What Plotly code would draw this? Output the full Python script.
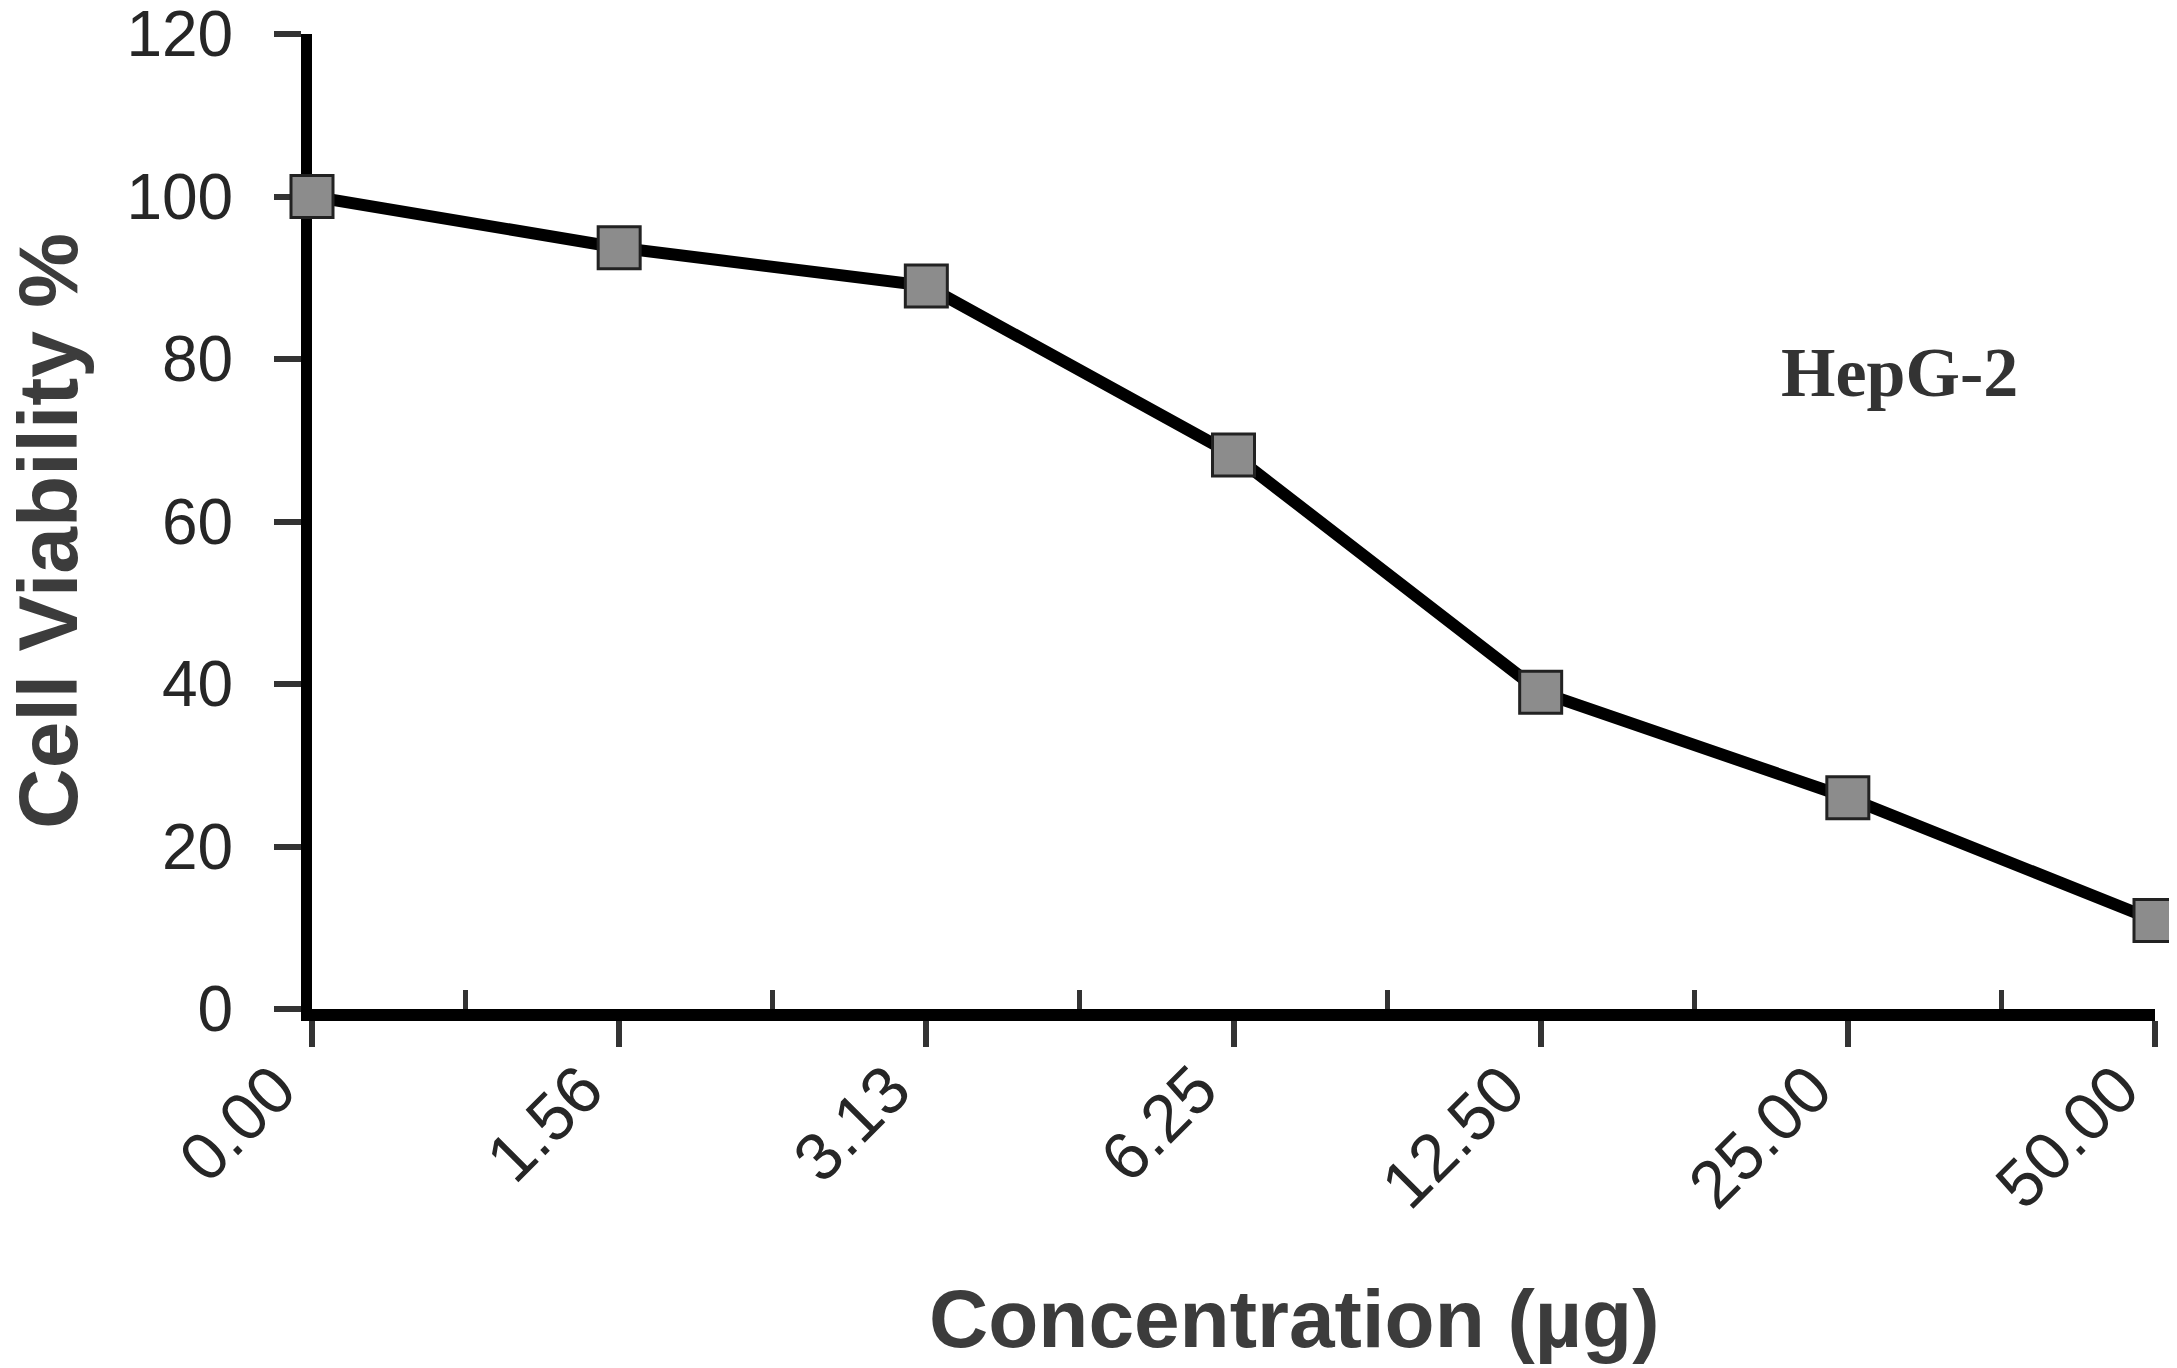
import plotly.graph_objects as go

# concentration labels (category axis) and measured viability
conc_labels = ["0.00", "1.56", "3.13", "6.25", "12.50", "25.00", "50.00"]
viability = [100, 93.7, 89, 68.2, 39, 26, 10.9]
y_ticks = [0, 20, 40, 60, 80, 100, 120]

pos = list(range(len(conc_labels)))
mids = [p + 0.5 for p in pos[:-1]]

# page has an 8px body margin, so the figure is a bit smaller than the window
W, H = 2169, 1360
L, R, T, B = 304, 22, 26, 359
OFF = 8  # body margin

fig = go.Figure()

fig.add_trace(go.Scatter(
    x=pos, y=viability,
    mode="lines+markers",
    line=dict(color="black", width=12),
    marker=dict(symbol="square", size=42, color="#8c8c8c",
                line=dict(color="#222222", width=3)),
    cliponaxis=False,
    showlegend=False,
))

tick_font = dict(family="Liberation Sans, Arial, sans-serif", color="#262626")

fig.update_xaxes(
    range=[0, len(conc_labels) - 1],
    tickmode="array", tickvals=pos, ticktext=conc_labels,
    tickangle=-45,
    tickfont=dict(size=67, **tick_font),
    ticks="outside", ticklen=26, tickwidth=6, tickcolor="#333333",
    ticklabelstandoff=-24, ticklabelshift=-36,
    ticklabeloverflow="allow",
    minor=dict(tickmode="array", tickvals=mids, ticks="inside",
               ticklen=19, tickwidth=5, tickcolor="#333333"),
    showline=True, linecolor="black", linewidth=12,
    showgrid=False, zeroline=False,
    layer="below traces", automargin=False,
)

fig.update_yaxes(
    range=[0, 120],
    tickmode="array", tickvals=y_ticks,
    tickfont=dict(size=64, **tick_font),
    ticks="outside", ticklen=27, tickwidth=6, tickcolor="#333333",
    ticklabelstandoff=28,
    ticklabeloverflow="allow",
    showline=True, linecolor="black", linewidth=11,
    showgrid=False, zeroline=False,
    layer="below traces", automargin=False,
)

# page pixel -> paper coordinates
def px_x(px):
    return (px - OFF - L) / (W - L - R)

def px_y(py):
    return (H - B - (py - OFF)) / (H - T - B)

title_font = dict(family="Liberation Sans, Arial, sans-serif", color="#3c3c3c", size=82)

fig.add_annotation(text="<b>Cell Viability %</b>", textangle=-90,
                   xref="paper", yref="paper", x=px_x(48), y=px_y(531),
                   xanchor="center", yanchor="middle",
                   showarrow=False, font=dict(title_font, size=84))
fig.add_annotation(text="<b>Concentration (µg)</b>",
                   xref="paper", yref="paper", x=px_x(1294), y=px_y(1318),
                   xanchor="center", yanchor="middle",
                   showarrow=False, font=title_font)
fig.add_annotation(text="<b>HepG-2</b>",
                   xref="paper", yref="paper", x=px_x(1899), y=px_y(372),
                   xanchor="center", yanchor="middle",
                   showarrow=False,
                   font=dict(family="Liberation Serif, Times New Roman, serif",
                             color="#333333", size=70))

fig.update_layout(
    width=W, height=H,
    margin=dict(l=L, r=R, t=T, b=B, autoexpand=False),
    paper_bgcolor="white", plot_bgcolor="white",
)

fig.write_html("out.html")
